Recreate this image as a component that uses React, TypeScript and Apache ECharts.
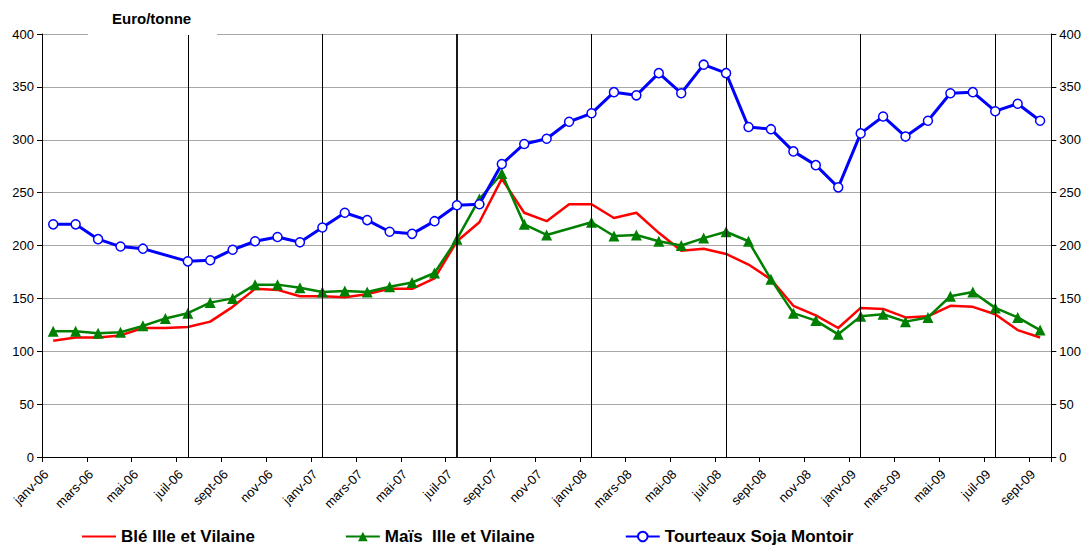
import React, { useEffect, useRef } from "react";
import * as echarts from "echarts";

const months = ["janv", "févr", "mars", "avr", "mai", "juin", "juil", "août", "sept", "oct", "nov", "déc"];
const years = ["06", "07", "08", "09"];
const categories: string[] = [];
years.forEach((y) => months.forEach((m) => categories.push(m + "-" + y)));
categories.splice(45);

const ble = [110, 113, 113, 115, 122, 122, 123, 128, 142, 159, 158, 152, 152, 151, 154, 159, 159, 169, 204, 222, 263, 231, 223, 239, 239, 226, 231, 212, 195, 197, 192, 182, 168, 143, 134, 122, 141, 140, 132, 133, 143, 142, 135, 120, 113];
const mais = [119, 119, 117, 118, 124, 131, 136, 146, 150, 163, 163, 160, 156, 157, 156, 161, 165, 174, 206, 244, 268, 220, 210, null, 222, 209, 210, 204, 200, 207, 213, 204, 168, 136, 129, 116, 133, 135, 128, 132, 152, 156, 141, 132, 120];
const soja = [220, 220, 206, 199, 197, null, 185, 186, 196, 204, 208, 203, 217, 231, 224, 213, 211, 223, 238, 239, 277, 296, 301, 317, 325, 345, 342, 363, 344, 371, 363, 312, 310, 289, 276, 255, 306, 322, 303, 318, 344, 345, 327, 334, 318];
const verticalMarks = ["juil-06", "janv-07", "juil-07", "janv-08", "juil-08", "janv-09", "juil-09"];

const FONT = "Liberation Sans, Arial, sans-serif";

export default function App() {
  const ref = useRef<HTMLDivElement>(null);
  useEffect(() => {
    if (!ref.current) return;
    const chart = echarts.init(ref.current, undefined, { renderer: "svg" });
    const yAxisBase = {
      type: "value",
      min: 0,
      max: 400,
      interval: 50,
      axisLine: { show: true, lineStyle: { color: "#000", width: 1 } },
      axisTick: { show: true, length: 5, lineStyle: { color: "#000" } },
      axisLabel: { color: "#000", fontSize: 13, fontFamily: FONT, margin: 8 },
    };
    chart.setOption({
      animation: false,
      backgroundColor: "#fff",
      textStyle: { fontFamily: FONT },
      grid: { left: 42, right: 27, top: 34, bottom: 90, containLabel: false },
      graphic: [
        { type: "rect", z: 100, shape: { x: 88, y: 32, width: 129, height: 3 }, style: { fill: "#fff" } },
        {
          type: "text",
          z: 101,
          x: 112,
          y: 11,
          style: { text: "Euro/tonne", fill: "#000", font: "bold 15px " + FONT },
        },
      ],
      legend: {
        top: 523,
        left: 76,
        itemWidth: 34,
        itemHeight: 12,
        itemGap: 90,
        textStyle: { fontSize: 17, fontWeight: "bold", color: "#000", fontFamily: FONT },
        data: [
          { name: "Blé Ille et Vilaine", itemStyle: { opacity: 0 } },
          { name: "Maïs  Ille et Vilaine" },
          { name: "Tourteaux Soja Montoir" },
        ],
      },
      xAxis: {
        type: "category",
        data: categories,
        boundaryGap: true,
        axisLine: { lineStyle: { color: "#000", width: 1 } },
        axisTick: { show: true, interval: 1, length: 5, lineStyle: { color: "#000" } },
        axisLabel: {
          interval: 1,
          rotate: 45,
          color: "#000",
          fontSize: 13,
          fontFamily: FONT,
          margin: 8,
          padding: [0, 10, 0, 0],
        },
        splitLine: { show: false },
      },
      yAxis: [
        {
          ...yAxisBase,
          position: "left",
          splitLine: { show: true, lineStyle: { color: "#a8a8a8", width: 1 } },
        },
        {
          ...yAxisBase,
          position: "right",
          splitLine: { show: false },
        },
      ],
      series: [
        {
          name: "Blé Ille et Vilaine",
          type: "line",
          data: ble,
          symbol: "none",
          lineStyle: { color: "#ff0000", width: 2.5 },
          itemStyle: { color: "#ff0000" },
          z: 3,
          markLine: {
            silent: true,
            symbol: "none",
            label: { show: false },
            lineStyle: { color: "#000", width: 1, type: "solid" },
            data: verticalMarks.map((m) => ({
              xAxis: m,
              lineStyle: { color: "#000", width: m === "juil-07" ? 1.8 : 1, type: "solid" },
            })),
          },
        },
        {
          name: "Maïs  Ille et Vilaine",
          type: "line",
          data: mais,
          connectNulls: true,
          symbol: "triangle",
          symbolSize: 11,
          lineStyle: { color: "#008000", width: 2.5 },
          itemStyle: { color: "#008000" },
          z: 4,
        },
        {
          name: "Tourteaux Soja Montoir",
          type: "line",
          data: soja,
          connectNulls: true,
          symbol: "circle",
          symbolSize: 9,
          showAllSymbol: true,
          lineStyle: { color: "#0000ff", width: 3 },
          itemStyle: { color: "#fff", borderColor: "#0000ff", borderWidth: 1.5 },
          z: 5,
        },
      ],
    });
    return () => chart.dispose();
  }, []);
  return <div ref={ref} style={{ position: "fixed", left: 0, top: 0, width: 1084, height: 547 }} />;
}
